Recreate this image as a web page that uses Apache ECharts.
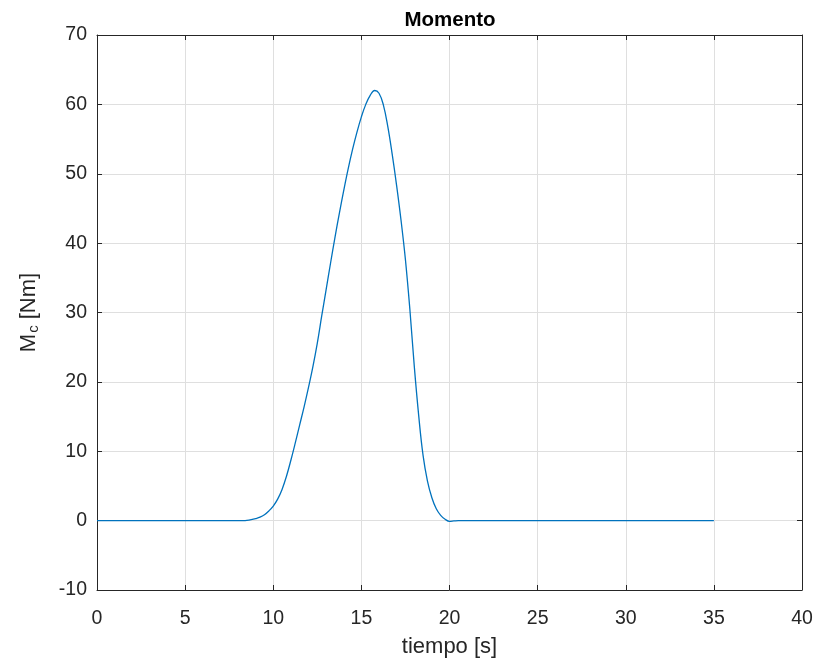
<!DOCTYPE html>
<html>
<head>
<meta charset="utf-8">
<script src="https://cdn.jsdelivr.net/npm/echarts@6/dist/echarts.min.js"></script>
<style>html,body{margin:0;padding:0;background:#fff;}#c{width:819px;height:663px;}</style>
</head>
<body>
<div id="c"></div>
<script>
const titleText = 'Momento';
const xName = 'tiempo [s]';
const tiempo = [0, 8, 8.25, 8.5, 8.75, 9, 9.25, 9.5, 9.75, 10, 10.25, 10.5, 10.75, 11, 11.25, 11.5, 11.75, 12, 12.25, 12.5, 12.75, 13, 13.25, 13.5, 13.75, 14, 14.25, 14.5, 14.75, 15, 15.25, 15.5, 15.75, 16, 16.25, 16.5, 16.75, 17, 17.25, 17.5, 17.75, 18, 18.25, 18.5, 18.75, 19, 19.25, 19.5, 19.75, 20, 20.25, 20.5, 35];
const momento = [0, 0, 0.01, 0.05, 0.15, 0.3, 0.5, 0.85, 1.4, 2.1, 3.1, 4.5, 6.4, 8.7, 11.2, 13.8, 16.4, 19.2, 22.2, 25.6, 29.5, 33.3, 37.1, 40.8, 44.3, 47.6, 50.7, 53.5, 56.0, 58.2, 60.0, 61.3, 62, 61.6, 59.9, 56.8, 52.8, 48.3, 43.3, 37.6, 30.5, 22.3, 15.2, 9.4, 5.7, 3.3, 1.7, 0.75, 0.2, -0.1, -0.05, 0, 0];
const xTicks = [0, 5, 10, 15, 20, 25, 30, 35, 40];
const yTicks = [-10, 0, 10, 20, 30, 40, 50, 60, 70];

const data = tiempo.map((t, i) => [t, momento[i]]);
const font = 'Liberation Sans, Arial, Helvetica, sans-serif';
const axisCol = '#262626';
const chart = echarts.init(document.getElementById('c'));
const common = {
  axisLine: { show: true, onZero: false, lineStyle: { color: axisCol, width: 1 } },
  axisTick: { show: true, inside: true, length: 5, lineStyle: { color: axisCol } },
  splitLine: { show: false },
  axisLabel: { show: false }
};
chart.setOption({
  animation: false,
  title: {
    text: titleText, left: 445, top: 5, textAlign: 'center',
    textStyle: { fontFamily: font, fontSize: 20.5, fontWeight: 'bold', color: '#000' }
  },
  grid: { left: 97, right: 17, top: 35, bottom: 72, containLabel: false },
  xAxis: [{
    type: 'value', min: xTicks[0], max: xTicks[xTicks.length - 1], interval: 5,
    position: 'bottom',
    name: xName, nameLocation: 'middle', nameGap: 46,
    nameTextStyle: { fontFamily: font, fontSize: 22, color: axisCol },
    axisLine: { show: true, onZero: false, lineStyle: { color: axisCol, width: 1 } },
    axisTick: { show: true, inside: true, length: 5, lineStyle: { color: axisCol } },
    axisLabel: { fontFamily: font, fontSize: 19.5, color: axisCol, margin: 19 },
    splitLine: { show: true, lineStyle: { color: '#dfdfdf', width: 1 } }
  }, Object.assign({
    type: 'value', min: xTicks[0], max: xTicks[xTicks.length - 1], interval: 5, position: 'top'
  }, common)],
  yAxis: [{
    type: 'value', min: yTicks[0], max: yTicks[yTicks.length - 1], interval: 10,
    position: 'left',
    name: 'M{sub|c} [Nm]', nameLocation: 'middle', nameGap: 56, nameRotate: 90,
    nameTextStyle: {
      fontFamily: font, fontSize: 22, color: axisCol,
      rich: { sub: { fontFamily: font, fontSize: 15, color: axisCol, verticalAlign: 'bottom', padding: [10, 0, 0, 1] } }
    },
    axisLine: { show: true, onZero: false, lineStyle: { color: axisCol, width: 1 } },
    axisTick: { show: true, inside: true, length: 5, lineStyle: { color: axisCol } },
    axisLabel: { fontFamily: font, fontSize: 19.5, color: axisCol, margin: 10 },
    splitLine: { show: true, lineStyle: { color: '#dfdfdf', width: 1 } }
  }, Object.assign({
    type: 'value', min: yTicks[0], max: yTicks[yTicks.length - 1], interval: 10, position: 'right'
  }, common)],
  series: [{
    type: 'line', data: data, showSymbol: false, smooth: 0.4,
    lineStyle: { color: '#0072BD', width: 1.3 }, z: 5
  }]
});
</script>
</body>
</html>
